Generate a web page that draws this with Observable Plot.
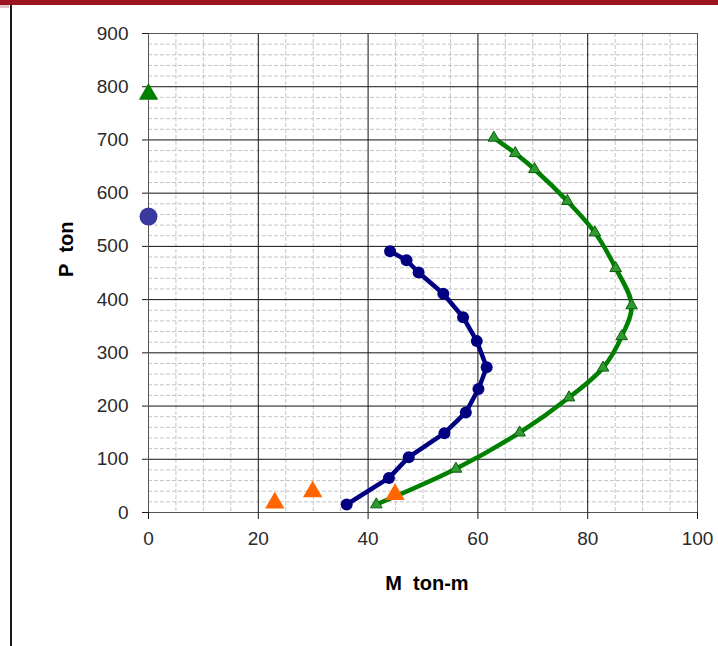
<!DOCTYPE html>
<html>
<head>
<meta charset="utf-8">
<script src="https://cdn.jsdelivr.net/npm/d3@7"></script>
<script src="https://cdn.jsdelivr.net/npm/@observablehq/plot@0.6"></script>
<style>
  html, body { margin: 0; padding: 0; background: #fff; }
  #wrap { position: relative; width: 718px; height: 646px; overflow: hidden; background: #fff; }
  #wrap svg { position: absolute; left: 0; top: 0; }
  #topbar { position: absolute; left: 0; top: 0; width: 718px; height: 5px; background: #9b1520; z-index: 2; }
  #pink { position: absolute; left: 0; top: 5px; width: 9px; height: 3px; background: #e3c3c6; z-index: 2; }
  #leftline { position: absolute; left: 10px; top: 5px; width: 2px; height: 641px; background: #1a1a1a; z-index: 2; }
</style>
</head>
<body>
<div id="wrap">
  <div id="topbar"></div>
  <div id="pink"></div>
  <div id="leftline"></div>
</div>
<script>
// ---- data ----
const xTicks = [0, 20, 40, 60, 80, 100];
const yTicks = [0, 100, 200, 300, 400, 500, 600, 700, 800, 900];

// navy curve (circles)
const blueM = [44.0, 47.0, 49.2, 53.7, 57.3, 59.8, 61.6, 60.1, 57.8, 53.9, 47.4, 43.8, 36.1];
const blueP = [491, 474, 451, 411, 367, 322, 273, 232, 188, 149, 104, 65, 15];

// green curve (small triangles)
const greenM = [62.9, 66.8, 70.3, 76.3, 81.3, 85.1, 88.0, 86.2, 82.8, 76.6, 67.6, 56.0, 41.5];
const greenP = [704, 675, 645, 585, 526, 459, 389, 331, 272, 216, 150, 82, 15];

// orange triangles
const orangeM = [23.0, 29.9, 44.9];
const orangeP = [18, 39, 34];

// single points on the P axis
const blueSingleM = [0];
const blueSingleP = [556];
const greenSingleM = [0];
const greenSingleP = [786];

const toRows = (ms, ps) => ms.map((m, i) => ({M: m, P: ps[i]}));
const blue = toRows(blueM, blueP);
const green = toRows(greenM, greenP);
const orange = toRows(orangeM, orangeP);
const blueSingle = toRows(blueSingleM, blueSingleP);
const greenSingle = toRows(greenSingleM, greenSingleP);

const minorX = d3.range(0, 101, 5).filter(v => v % 20 !== 0);
const minorY = d3.range(0, 901, 20).filter(v => v % 100 !== 0);

const chart = Plot.plot({
  width: 718,
  height: 646,
  marginLeft: 148,
  marginRight: 21,
  marginTop: 33,
  marginBottom: 134,
  style: {fontFamily: "'Liberation Sans', Arial, sans-serif", color: "#1a1a1a", background: "transparent", overflow: "visible"},
  x: {domain: [0, 100]},
  y: {domain: [0, 900]},
  marks: [
    Plot.ruleX(minorX, {stroke: "#c4c4c4", strokeDasharray: "4,2"}),
    Plot.ruleY(minorY, {stroke: "#c4c4c4", strokeDasharray: "4,2"}),
    Plot.ruleX(xTicks, {stroke: "#111"}),
    Plot.ruleY(yTicks, {stroke: "#111"}),
    Plot.frame({stroke: "#555"}),
    Plot.axisX({ticks: xTicks, tickSize: 7, label: null, tickFormat: () => ""}),
    Plot.axisY({ticks: yTicks, tickSize: 6, label: null, tickFormat: () => ""}),
    Plot.text(xTicks, {x: d => d, frameAnchor: "bottom", lineAnchor: "top", dy: 19, fontSize: 19, fill: "#2a2a2a"}),
    Plot.text(yTicks, {y: d => d, frameAnchor: "left", textAnchor: "end", dx: -20, fontSize: 19, fill: "#2a2a2a"}),
    Plot.text(["P\u00a0 ton"], {frameAnchor: "left", dx: -82, dy: 4, rotate: -90, fontSize: 20, fontWeight: "bold", fill: "#000"}),
    Plot.text(["M\u00a0 ton-m"], {frameAnchor: "bottom", dx: 4, dy: 77, fontSize: 20, fontWeight: "bold", fill: "#000"}),
    Plot.line(green, {x: "M", y: "P", stroke: "#008000", strokeWidth: 4.5, curve: "catmull-rom"}),
    Plot.dot(green, {x: "M", y: "P", symbol: "triangle", r: 4.3, fill: "#2f9a2f", stroke: "#0b5e0b", strokeWidth: 1}),
    Plot.line(blue, {x: "M", y: "P", stroke: "#000080", strokeWidth: 4.5}),
    Plot.dot(blue, {x: "M", y: "P", r: 6, fill: "#000080"}),
    Plot.dot(orange, {x: "M", y: "P", symbol: "triangle", r: 7.2, fill: "#ff6600"}),
    Plot.dot(blueSingle, {x: "M", y: "P", r: 9, fill: "#3a3a9e"}),
    Plot.dot(greenSingle, {x: "M", y: "P", symbol: "triangle", r: 7.2, fill: "#008000"})
  ]
});
document.getElementById("wrap").appendChild(chart);
</script>
</body>
</html>
